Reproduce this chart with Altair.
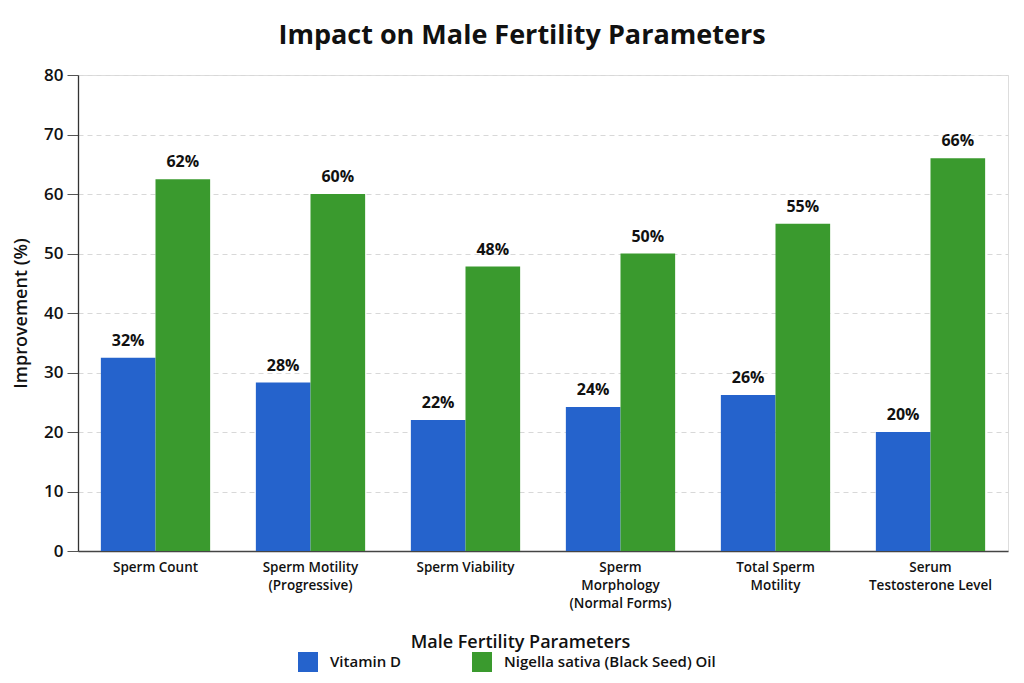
import altair as alt
import pandas as pd

categories = ["Sperm Count", "Sperm Motility (Progressive)", "Sperm Viability",
              "Sperm Morphology (Normal Forms)", "Total Sperm Motility",
              "Serum Testosterone Level"]
label_lines = [["Sperm Count"], ["Sperm Motility", "(Progressive)"], ["Sperm Viability"],
               ["Sperm", "Morphology", "(Normal Forms)"], ["Total Sperm", "Motility"],
               ["Serum", "Testosterone Level"]]
series = ["Vitamin D", "Nigella sativa (Black Seed) Oil"]
vitamin_d = [32.5, 28.3, 22.0, 24.2, 26.2, 20.0]
vitamin_d_labels = ["32%", "28%", "22%", "24%", "26%", "20%"]
nigella = [62.5, 60.0, 47.8, 50.0, 55.0, 66.0]
nigella_labels = ["62%", "60%", "48%", "50%", "55%", "66%"]
colors = ["#2563cc", "#3a9a2e"]

rows = []
for i, c in enumerate(categories):
    rows.append({"cat": c, "series": series[0], "value": vitamin_d[i], "label": vitamin_d_labels[i]})
    rows.append({"cat": c, "series": series[1], "value": nigella[i], "label": nigella_labels[i]})
df = pd.DataFrame(rows)

lookup = "{" + ",".join(
    "'" + c + "':[" + ",".join("'" + l + "'" for l in ls) + "]" for c, ls in zip(categories, label_lines)
) + "}"

FONT = "Open Sans"

x = alt.X("cat:N", sort=categories,
          scale=alt.Scale(paddingInner=0.295, paddingOuter=0.1475),
          axis=alt.Axis(title="Male Fertility Parameters", labelAngle=0,
                        labelExpr=lookup + "[datum.label]",
                        labelFontSize=13.5, labelFont=FONT, labelFontWeight=600,
                        labelColor="#111", labelPadding=9, labelLineHeight=18,
                        ticks=False, domainColor="#444", domainWidth=1.5,
                        titleFont=FONT, titleFontSize=18, titleFontWeight=600,
                        titleColor="#111", titleX=442, titleY=82, grid=False))
y = alt.Y("value:Q", scale=alt.Scale(domain=[0, 80]),
          axis=alt.Axis(title="Improvement (%)", values=list(range(0, 81, 10)),
                        labelFont=FONT, labelFontSize=17, labelFontWeight=600,
                        labelColor="#111", tickSize=11, tickColor="#555",
                        labelPadding=4, domainColor="#333", domainWidth=1.3,
                        gridDash=[5, 4], gridColor="#d8d8d8",
                        titleFont=FONT, titleFontSize=18, titleFontWeight=600,
                        titleColor="#111", titlePadding=13))
color = alt.Color("series:N", sort=series,
                  scale=alt.Scale(domain=series, range=colors),
                  legend=alt.Legend(title=None, orient="none", direction="horizontal",
                                    legendX=220, legendY=577, symbolType="square",
                                    symbolSize=400, symbolStrokeWidth=0, labelLimit=400,
                                    labelFont=FONT, labelFontSize=15, labelFontWeight=600,
                                    labelColor="#111", labelOffset=12, columnPadding=70))
xo = alt.XOffset("series:N", sort=series)

base = alt.Chart(df).encode(x=x, xOffset=xo)
bars = base.mark_bar().encode(y=y, color=color)
text = base.mark_text(baseline="bottom", dy=-9, font=FONT, fontSize=16,
                      fontWeight="bold", color="#111").encode(y="value:Q", text="label:N")

chart = (bars + text).properties(
    width=930, height=476,
    autosize=alt.AutoSizeParams(type="none"),
    padding={"left": 78, "top": 75, "right": 16, "bottom": 132},
    title=alt.TitleParams("Impact on Male Fertility Parameters", font=FONT, fontSize=27,
                          fontWeight="bold", color="#111", anchor="middle", offset=16, dx=-21),
).configure_view(stroke=None).configure(background="white")

chart.save("out.html", embed_options={"renderer": "svg", "actions": False})
